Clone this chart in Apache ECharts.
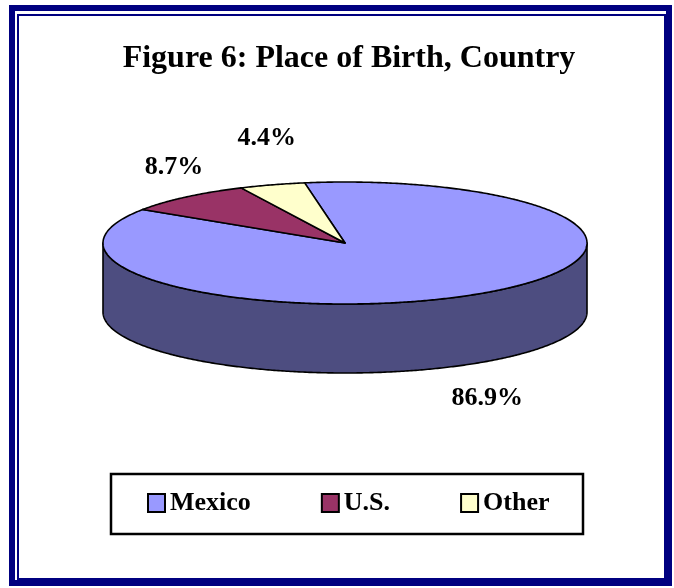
<!DOCTYPE html>
<html>
<head>
<meta charset="utf-8">
<script src="https://cdn.jsdelivr.net/npm/echarts@6/dist/echarts.min.js"></script>
<style>
html,body{margin:0;padding:0;background:#fff;}
#chart{width:674px;height:588px;}
</style>
</head>
<body>
<div id="chart"></div>
<script>
// ---- data ----
const categories = ['Mexico', 'U.S.', 'Other'];
const shares = [86.9, 8.7, 4.4];
const titleText = 'Figure 6: Place of Birth, Country';

// ---- styling / layout ----
const topColors = ['#9999FF', '#993366', '#FFFFCC'];
const sideColors = ['#4D4D80', '#4D1A33', '#80806A'];
const PIE = { cx: 345, cy: 243, rx: 242, ry: 61, depth: 69, startAngle: 99.6 };
const LABEL = { cx: 345, cy: 277, rx: 260, ry: 145 };
const FONT = "'Liberation Serif', 'Times New Roman', serif";

const total = shares.reduce((a, b) => a + b, 0);
const cumBefore = shares.map((v, i) => shares.slice(0, i).reduce((a, b) => a + b, 0));

function rad(d) { return d * Math.PI / 180; }
function ellPt(theta, yOff) {
  return [PIE.cx + PIE.rx * Math.cos(rad(theta)), PIE.cy + yOff - PIE.ry * Math.sin(rad(theta))];
}
function arc(from, to, yOff) {
  const n = Math.max(2, Math.ceil(Math.abs(to - from) / 0.5));
  const pts = [];
  for (let k = 0; k <= n; k++) pts.push(ellPt(from + (to - from) * k / n, yOff));
  return pts;
}

function makeRender(i) {
  return function (params, api) {
    const v = api.value(0), cum = api.value(1);
    const ts = PIE.startAngle - 360 * cum / total;
    const te = ts - 360 * v / total;
    const children = [];
    // visible front side: angles in [180+360k, 360+360k]
    for (let k = -3; k <= 3; k++) {
      const lo = Math.max(te, 180 + 360 * k), hi = Math.min(ts, 360 + 360 * k);
      if (hi > lo) {
        const pts = arc(lo, hi, 0).concat(arc(hi, lo, PIE.depth));
        children.push({
          type: 'polygon', z2: 1,
          shape: { points: pts },
          style: { fill: sideColors[i], stroke: '#000', lineWidth: 1.6, lineJoin: 'round' }
        });
      }
    }
    const topPts = [[PIE.cx, PIE.cy]].concat(arc(ts, te, 0));
    children.push({
      type: 'polygon', z2: 5,
      shape: { points: topPts },
      style: { fill: topColors[i], stroke: '#000', lineWidth: 1.6, lineJoin: 'round' }
    });
    const mid = (ts + te) / 2;
    children.push({
      type: 'text', z2: 10,
      x: LABEL.cx + LABEL.rx * Math.cos(rad(mid)),
      y: LABEL.cy - LABEL.ry * Math.sin(rad(mid)),
      style: {
        text: v.toFixed(1) + '%', fill: '#000',
        font: 'bold 26px ' + FONT, align: 'center', verticalAlign: 'middle'
      }
    });
    return { type: 'group', children: children };
  };
}

const chart = echarts.init(document.getElementById('chart'), null, { renderer: 'canvas' });
chart.setOption({
  animation: false,
  backgroundColor: '#fff',
  title: {
    text: titleText, left: 344, top: 38, textAlign: 'center',
    textStyle: { fontFamily: FONT, fontWeight: 'bold', fontSize: 32, color: '#000' }
  },
  legend: {
    data: categories, left: 142, top: 485, icon: 'rect',
    itemWidth: 17, itemHeight: 18, itemGap: 70,
    itemStyle: { borderColor: '#000', borderWidth: 2 },
    textStyle: { fontFamily: FONT, fontWeight: 'bold', fontSize: 26, color: '#000' },
    selectedMode: false
  },
  graphic: [
    { type: 'rect', shape: { x: 12, y: 8, width: 657, height: 575 },
      style: { fill: null, stroke: '#000080', lineWidth: 6 } },
    { type: 'rect', shape: { x: 18, y: 15, width: 647, height: 564 },
      style: { fill: null, stroke: '#000080', lineWidth: 2 } },
    { type: 'rect', shape: { x: 111, y: 474, width: 472, height: 60 },
      style: { fill: null, stroke: '#000', lineWidth: 2.5 } }
  ],
  series: categories.map((name, i) => ({
    type: 'custom', name: name, coordinateSystem: 'none', silent: true,
    itemStyle: { color: topColors[i] },
    data: [[shares[i], cumBefore[i]]],
    renderItem: makeRender(i)
  }))
});
</script>
</body>
</html>
